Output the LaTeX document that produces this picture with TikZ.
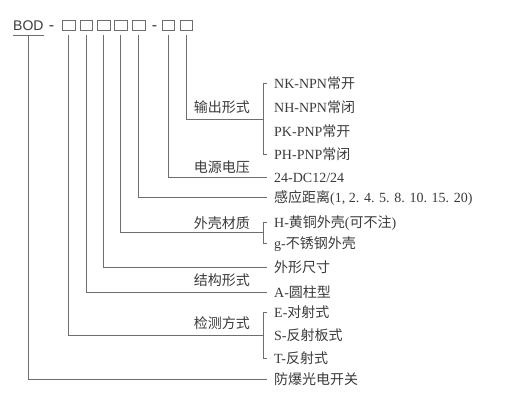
\documentclass[tikz,border=0pt]{standalone}
\usepackage{fontspec}
\setmainfont{Liberation Serif}
\newfontfamily\cjk{Noto Sans CJK SC}
\newfontfamily\headfont{Liberation Sans}
\usepackage{tikz}
\usetikzlibrary{calc}
\usepackage{xcolor}
\definecolor{textgray}{HTML}{3A3A3A}
\definecolor{linegray}{HTML}{6E6E6E}

\begin{document}
\begin{tikzpicture}[x=1pt, y=-1pt,
    item/.style={anchor=west, inner sep=0, font=\fontsize{14}{16}\selectfont, text=textgray, text height=11pt, text depth=0pt},
    lbl/.style={anchor=east, inner sep=0, font=\fontsize{14}{16}\selectfont\cjk, text=textgray, text height=11pt, text depth=0pt},
    slot/.style={draw=linegray, minimum width=12.5pt, minimum height=10.5pt, inner sep=0},
    code/.style={font=\fontsize{14}{16}\selectfont\headfont, text=textgray, inner sep=0},
    conn/.style={draw=linegray, line width=0.8pt}
]
\useasboundingbox (0,0) rectangle (522,408);

% Model code
\node[code, anchor=base west] (bod) at (13,30) {BOD};
\node[code, anchor=base, font=\fontsize{16}{16}\selectfont\headfont] (d1) at (51.5,30) {-};
\foreach \x [count=\i] in {68.8,86.3,103.5,120.5,138.5}
    \node[slot] (b\i) at (\x,25) {};
\node[code, anchor=base, font=\fontsize{16}{16}\selectfont\headfont] (d2) at (154.5,30) {-};
\node[slot] (b6) at (168.3,25) {};
\node[slot] (b7) at (186,25) {};

% Options
\node[item] (nk) at (274,83) {NK-NPN{\cjk 常开}};
\node[item] (nh) at (274,107) {NH-NPN{\cjk 常闭}};
\node[item] (pk) at (274,131) {PK-PNP{\cjk 常开}};
\node[item] (ph) at (274,154) {PH-PNP{\cjk 常闭}};
\node[item] (volt) at (274,177) {24-DC12/24};
\node[item] (dist) at (274,197) {{\cjk 感应距离}(1, 2. 4. 5. 8. 10. 15. 20)};
\node[item] (brass) at (274,222) {H-{\cjk 黄铜外壳}({\cjk 可不注})};
\node[item] (steel) at (274,243) {g-{\cjk 不锈钢外壳}};
\node[item] (size) at (274,267) {{\cjk 外形尺寸}};
\node[item] (cyl) at (274,292) {A-{\cjk 圆柱型}};
\node[item] (thru) at (274,312) {E-{\cjk 对射式}};
\node[item] (refl) at (274,335) {S-{\cjk 反射板式}};
\node[item] (diff) at (274,358) {T-{\cjk 反射式}};
\node[item] (expl) at (274,379) {{\cjk 防爆光电开关}};

% Group labels
\node[lbl] (outlbl) at (250,107) {输出形式};
\node[lbl] (vlbl) at (250,167) {电源电压};
\node[lbl] (matlbl) at (250,223) {外壳材质};
\node[lbl] (shplbl) at (250,280) {结构形式};
\node[lbl] (detlbl) at (250,323) {检测方式};

\coordinate (outj) at ($(nh.west)!.5!(pk.west)+(-11,0)$);
\coordinate (matj) at ($(brass.west)!.5!(steel.west)+(-11,0)$);
\coordinate (detj) at ($(refl.west)+(-11,0)$);

% Leaders
\draw[conn] ([yshift=-5pt]bod.base west) -- ([yshift=-5pt]bod.base east);
\draw[conn] ([yshift=-5pt]bod.base) |- ([xshift=-7pt]expl.west);
\draw[conn] ([yshift=-5pt]b1.south) |- (detj);
\draw[conn] ([xshift=-7pt]thru.west) -| ([xshift=-11pt]diff.west) -- ([xshift=-7pt]diff.west);
\draw[conn] ([yshift=-5pt]b2.south) |- ([xshift=-7pt]cyl.west);
\draw[conn] ([yshift=-5pt]b3.south) |- ([xshift=-7pt]size.west);
\draw[conn] ([yshift=-5pt]b4.south) |- (matj);
\draw[conn] ([xshift=-7pt]brass.west) -| ([xshift=-11pt]steel.west) -- ([xshift=-7pt]steel.west);
\draw[conn] ([yshift=-5pt]b5.south) |- ([xshift=-7pt]dist.west);
\draw[conn] ([yshift=-5pt]b6.south) |- ([xshift=-7pt]volt.west);
\draw[conn] ([yshift=-5pt]b7.south) |- (outj);
\draw[conn] ([xshift=-7pt]nk.west) -| ([xshift=-11pt]ph.west) -- ([xshift=-7pt]ph.west);
\end{tikzpicture}
\end{document}
